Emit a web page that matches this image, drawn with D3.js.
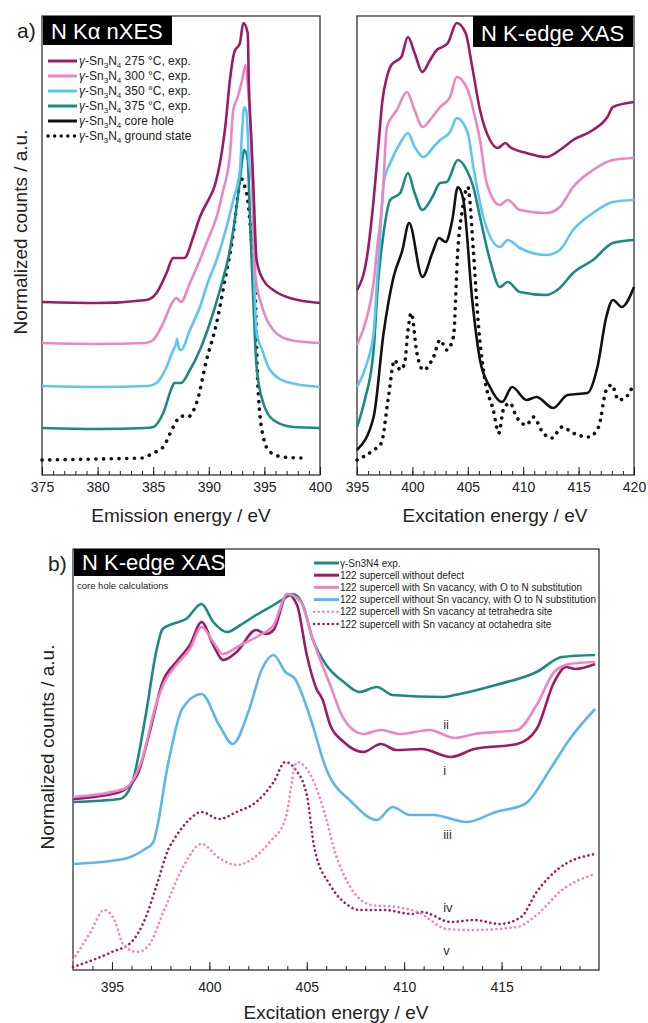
<!DOCTYPE html>
<html>
<head>
<meta charset="utf-8">
<script src="https://cdn.jsdelivr.net/npm/d3@7"></script>
<style>
  body { margin: 0; background: #fff; }
  svg { font-family: "Liberation Sans", Arial, sans-serif; }
</style>
</head>
<body>
<script>
// ---- data (energy in eV, counts in a.u.) ----
// a) N K-alpha nXES
const xes275 = [[375,173],[380,172],[384.4,175],[385.3,182],[386.2,202],[386.8,217],[387.8,217],[388.6,238],[389.2,258],[390.1,278],[390.4,285],[391.2,325],[391.5,350],[391.9,395],[392.3,423],[392.8,432],[393.1,452],[393.5,442],[393.6,392],[393.8,342],[394,292],[394.3,215],[394.9,195],[395.8,185],[397.3,177],[400,172]];
const xes300 = [[375,132],[380,131],[384.3,132],[385,135],[385.9,152],[386.7,172],[387.1,177],[387.5,173],[388.3,192],[389.2,215],[389.9,235],[390.7,258],[391.3,285],[391.9,320],[392.2,365],[392.6,378],[393,395],[393.3,410],[393.6,375],[393.8,335],[394,260],[394.2,198],[394.8,168],[395.8,145],[397.3,135],[400,132]];
const xes350 = [[375,89],[380,88],[384.5,89],[385.3,92],[386.2,108],[386.8,125],[387.05,131],[387.15,136],[387.3,127],[387.5,125],[388.3,145],[389.2,168],[389.9,192],[390.7,215],[391.6,248],[392.2,275],[392.8,305],[393,345],[393.2,368],[393.4,362],[393.6,315],[393.9,292],[394.1,192],[394.3,142],[394.8,125],[395.5,105],[397,93],[400,88]];
const xes375 = [[375,47],[380,46],[384.3,47],[385,48],[385.9,62],[386.7,88],[386.9,92],[387.5,92],[388.3,105],[389.2,125],[390.1,152],[391,185],[391.9,225],[392.5,268],[392.9,305],[393.1,322],[393.2,325],[393.5,315],[393.7,258],[394,175],[394.3,108],[394.9,72],[395.8,55],[397.6,48],[400,47]];
const xesGround = [[375,15],[380,16],[384,17],[385,22],[385.9,28],[386.8,48],[387.5,59],[388.1,58],[388.9,72],[389.8,115],[390.7,152],[391.4,192],[392.2,242],[392.6,278],[392.85,297],[393.2,290],[393.5,275],[393.9,225],[394.2,175],[394.4,92],[394.9,38],[395.5,23],[396.7,18],[398.4,17]];

// a) N K-edge XAS
const xas275 = [[395,185],[395.9,218],[396.5,275],[396.9,325],[397.3,375],[397.7,398],[398.1,410],[399,418],[399.6,438],[400.2,422],[400.9,403],[401.6,415],[402.2,425],[402.7,428],[403.2,432],[404,452],[404.8,442],[405.4,408],[406.1,365],[407,335],[407.7,327],[408.4,332],[408.8,328],[410.3,322],[412.1,318],[413.3,325],[414.5,335],[416.3,345],[417.6,358],[418.1,368],[420,373]];
const xas300 = [[395,130],[395.9,158],[396.5,192],[396.8,225],[397.3,275],[397.7,348],[398.6,365],[399.5,383],[400.2,365],[400.9,348],[401.8,358],[402.5,368],[403.4,378],[404,398],[405,385],[405.5,365],[406.1,335],[406.7,292],[407.9,270],[408.6,275],[409.7,265],[412.1,262],[413.3,268],[414.5,288],[416.3,305],[418.1,315],[420,317]];
const xas350 = [[395,88],[395.9,112],[396.5,142],[396.8,192],[397.1,242],[397.4,292],[398,312],[398.9,332],[399.6,342],[400.2,328],[401,318],[401.9,328],[402.5,335],[403.4,343],[404,357],[405,342],[405.5,308],[406.4,258],[407.9,228],[408.6,235],[409.7,227],[412.1,220],[413.3,225],[414.5,245],[416.3,262],[418.1,273],[420,275]];
const xas375 = [[395,48],[395.7,75],[396.5,125],[396.9,192],[397.4,242],[398,275],[398.9,282],[399.6,302],[400.2,282],[400.9,265],[401.8,278],[402.5,292],[403.1,293],[404.1,315],[404.9,305],[405.5,288],[406.1,258],[407,215],[407.9,188],[408.6,193],[409.7,183],[412.1,180],[413.3,187],[414.5,202],[416.3,215],[418.1,232],[420,235]];
const xasCoreHole = [[395,25],[396.5,58],[397.4,142],[398.3,198],[399.1,225],[399.7,252],[400.9,198],[401.8,222],[402.4,237],[403,233],[403.6,255],[404.1,288],[404.6,275],[405.4,175],[406.1,115],[407,88],[408.1,73],[409,88],[410.3,75],[411.2,78],[412.7,67],[414,80],[415.8,82],[416.7,108],[417.5,158],[418.1,175],[418.9,168],[420,188]];
const xasGround = [[395,15],[396.5,25],[397.2,32],[397.8,75],[398.4,115],[398.9,105],[399.3,112],[399.6,145],[399.9,162],[400.4,122],[401,105],[401.9,118],[402.5,135],[403.1,125],[403.7,138],[404.1,225],[404.5,265],[405,288],[405.5,225],[405.9,158],[406.5,98],[407.3,65],[407.8,42],[408.2,65],[408.8,72],[409.4,58],[410.3,50],[410.9,58],[411.8,42],[412.6,37],[413.5,48],[414.5,42],[415.9,38],[416.8,48],[417.5,85],[418,90],[418.6,75],[419.3,78],[420,92]];

// b) N K-edge XAS, core hole calculations
const calcExp = [[393,168],[395.4,171],[396,185],[396.7,251],[397.3,321],[397.6,341],[398.1,346],[398.8,351],[399.6,366],[400.2,348],[400.9,338],[401.6,345],[402.4,355],[403.3,365],[403.8,371],[404.3,376],[404.8,365],[405.3,331],[406,305],[406.9,288],[407.7,278],[408.6,283],[409.4,275],[412,273],[412.6,275],[414.7,285],[416.8,298],[418.1,313],[419.8,315]];
const calcNoDefect = [[393,171],[395.4,178],[396.3,195],[396.9,235],[397.6,288],[398.3,308],[399,325],[399.6,348],[400.2,325],[400.7,310],[401.4,318],[402.4,340],[402.9,336],[403.3,340],[404,376],[404.5,365],[405,315],[405.5,281],[405.8,271],[406.2,245],[406.9,228],[407.9,218],[408.8,226],[409.6,220],[410.9,221],[412.4,213],[413.6,221],[415.8,226],[416.8,241],[417.7,288],[418.3,303],[418.8,301],[419.8,306]];
const calcSnVacO = [[393,173],[395.6,181],[396.5,208],[397.3,268],[397.7,288],[398.3,305],[399,321],[399.6,343],[400.2,328],[400.7,316],[401.6,325],[402.6,335],[403.3,345],[404,376],[404.7,368],[405.3,331],[406.2,285],[406.9,251],[407.9,236],[408.8,240],[409.8,236],[411.3,240],[412.6,232],[413.6,236],[415.8,240],[416.8,265],[417.7,298],[418.5,306],[419.8,308]];
const calcNoSnVacO = [[393,106],[395.6,111],[396.7,121],[397.1,127],[397.9,208],[398.6,261],[399.6,276],[400.5,245],[401.2,226],[402,258],[402.7,301],[403.3,315],[403.9,298],[404.4,291],[405.2,251],[406,201],[407.3,168],[408.6,150],[409.4,163],[410.3,155],[411.5,155],[413.2,148],[414.7,158],[416.2,166],[417.5,201],[418.5,231],[419.8,261]];
const calcTetra = [[393,10],[393.9,38],[394.6,60],[395.1,51],[395.6,25],[396.3,18],[396.9,25],[397.7,61],[398.6,101],[399.6,126],[400.5,112],[401.4,105],[402.2,111],[403.1,128],[403.9,151],[404.5,208],[405.2,195],[406,151],[406.4,121],[407.3,81],[408.3,65],[409.6,63],[410.7,58],[412.2,41],[413.6,40],[415.8,43],[416.8,55],[418.1,80],[419.8,96]];
const calcOcta = [[393,3],[395,18],[396,28],[396.7,51],[397.3,85],[397.9,121],[398.2,131],[399,151],[399.6,158],[400.5,151],[401.4,158],[402.4,168],[403.3,188],[403.9,208],[404.4,201],[405,175],[405.4,121],[406.2,85],[407.1,65],[407.7,60],[409,60],[410.4,56],[410.9,58],[412.4,48],[413.6,50],[414.9,46],[416,53],[416.8,78],[417.9,101],[419.8,116]];

// legend texts and tick labels
const legendA = ['275 °C, exp.', '300 °C, exp.', '350 °C, exp.', '375 °C, exp.', 'core hole', 'ground state'];
const legendB = ['γ-Sn3N4 exp.', '122 supercell without defect', '122 supercell with Sn vacancy, with O to N substitution',
  '122 supercell without Sn vacancy, with O to N substitution', '122 supercell with Sn vacancy at tetrahedra site',
  '122 supercell with Sn vacancy at octahedra site'];
const romanLabels = [['ii', 412, 241], ['i', 412, 195], ['iii', 412, 131], ['iv', 412, 58], ['v', 412, 15]];
const ticksXES = [375, 380, 385, 390, 395, 400];
const ticksXASa = [395, 400, 405, 410, 415, 420];
const ticksXASb = [395, 400, 405, 410, 415];

const C = { purple: '#9a1c64', pink: '#ec86c2', blue: '#5cc6f0', teal: '#1b8a82', black: '#111',
            bBlue: '#5db7e6' };

const svg = d3.select('body').append('svg').attr('width', 648).attr('height', 1023);
svg.append('rect').attr('width', 648).attr('height', 1023).attr('fill', '#fff');

function makePanel(p) {
  const x = d3.scaleLinear().domain(p.dom).range([p.x0, p.x1]);
  const y = d3.scaleLinear().domain(p.ydom).range([p.y1, p.y0]);
  const g = svg.append('g');
  // minor ticks
  g.append('g').attr('transform', `translate(0,${p.y1})`)
    .call(d3.axisBottom(x).tickValues(p.minor).tickSize(-4).tickFormat(''))
    .call(a => a.select('.domain').remove())
    .selectAll('line').attr('stroke', '#222');
  const ax = g.append('g').attr('transform', `translate(0,${p.y1})`)
    .call(d3.axisBottom(x).tickValues(p.major).tickSize(-8).tickPadding(p.pad).tickFormat(d3.format('d')));
  ax.select('.domain').remove();
  ax.selectAll('line').attr('stroke', '#222');
  ax.selectAll('text').attr('font-size', 14).attr('fill', '#222')
    .attr('font-family', '"Liberation Sans", Arial, sans-serif');
  g.append('rect').attr('x', p.x0).attr('y', p.y0).attr('width', p.x1 - p.x0).attr('height', p.y1 - p.y0)
    .attr('fill', 'none').attr('stroke', '#222').attr('stroke-width', 1.2);
  return { x, y, g };
}

function drawLine(P, data, color, width, dash) {
  const line = d3.line().x(d => P.x(d[0])).y(d => P.y(d[1])).curve(d3.curveMonotoneX);
  const path = svg.append('path').datum(data).attr('d', line)
    .attr('fill', 'none').attr('stroke', color).attr('stroke-width', width)
    .attr('stroke-linejoin', 'round');
  if (dash) path.attr('stroke-dasharray', dash).attr('stroke-linecap', 'round');
  return path;
}

function blackBox(x, y, w, h, label) {
  svg.append('rect').attr('x', x).attr('y', y).attr('width', w).attr('height', h).attr('fill', '#000');
  svg.append('text').attr('x', x + 8).attr('y', y + h - 6).attr('fill', '#fff')
    .attr('font-size', 22).text(label);
}

// ---- panel a) left: XES ----
const PA = makePanel({ x0: 42, x1: 320, y0: 16, y1: 475, dom: [375, 400], ydom: [0, 459], pad: 7,
  major: ticksXES, minor: d3.range(376, 400, 1) });
drawLine(PA, xesGround, C.black, 3.6, '0.1 7.6');
drawLine(PA, xes375, C.teal, 2.6);
drawLine(PA, xes350, C.blue, 2.6);
drawLine(PA, xes300, C.pink, 2.6);
drawLine(PA, xes275, C.purple, 2.6);
blackBox(43, 16, 129, 29, 'N Kα nXES');

const legColors = [C.purple, C.pink, C.blue, C.teal, C.black, C.black];
legendA.forEach((t, i) => {
  const yy = 61 + i * 15;
  const l = svg.append('line').attr('x1', 48).attr('x2', 77).attr('y1', yy).attr('y2', yy)
    .attr('stroke', legColors[i]).attr('stroke-width', i === 5 ? 3.4 : 3);
  if (i === 5) l.attr('stroke-dasharray', '0.1 6.5').attr('stroke-linecap', 'round');
  const tx = svg.append('text').attr('x', 79).attr('y', yy + 4).attr('font-size', 12).attr('fill', '#222');
  tx.append('tspan').attr('font-style', 'italic').text('γ');
  tx.append('tspan').text('-Sn');
  tx.append('tspan').attr('font-size', 8).attr('dy', 3).text('3');
  tx.append('tspan').attr('dy', -3).text('N');
  tx.append('tspan').attr('font-size', 8).attr('dy', 3).text('4');
  tx.append('tspan').attr('dy', -3).text(' ' + t);
});

// ---- panel a) right: XAS ----
const PX = makePanel({ x0: 357, x1: 634, y0: 16, y1: 475, dom: [395, 420], ydom: [0, 459], pad: 7,
  major: ticksXASa, minor: d3.range(396, 420, 1) });
drawLine(PX, xasGround, C.black, 3.6, '0.1 7.2');
drawLine(PX, xasCoreHole, C.black, 2.6);
drawLine(PX, xas375, C.teal, 2.6);
drawLine(PX, xas350, C.blue, 2.6);
drawLine(PX, xas300, C.pink, 2.6);
drawLine(PX, xas275, C.purple, 2.6);
blackBox(473, 16, 160, 31, 'N K-edge XAS');

svg.append('text').attr('x', 17).attr('y', 38).attr('font-size', 21).attr('fill', '#222').text('a)');
svg.append('text').attr('x', 181).attr('y', 522).attr('text-anchor', 'middle').attr('font-size', 19)
  .attr('fill', '#222').text('Emission energy / eV');
svg.append('text').attr('x', 495).attr('y', 522).attr('text-anchor', 'middle').attr('font-size', 19)
  .attr('fill', '#222').text('Excitation energy / eV');
svg.append('text').attr('transform', 'translate(27,232) rotate(-90)').attr('text-anchor', 'middle')
  .attr('font-size', 19).attr('fill', '#222').text('Normalized counts / a.u.');

// ---- panel b) ----
const PB = makePanel({ x0: 73, x1: 599, y0: 549, y1: 970, dom: [393, 420], ydom: [0, 421], pad: 12,
  major: ticksXASb, minor: d3.range(394, 420, 1) });
drawLine(PB, calcOcta, C.purple, 2.6, '0.1 4.6');
drawLine(PB, calcTetra, C.pink, 2.6, '0.1 4.6');
drawLine(PB, calcNoSnVacO, C.bBlue, 2.6);
drawLine(PB, calcExp, C.teal, 2.6);
drawLine(PB, calcNoDefect, C.purple, 2.6);
drawLine(PB, calcSnVacO, C.pink, 2.6);
blackBox(74, 549, 151, 27, 'N K-edge XAS');
svg.append('text').attr('x', 48).attr('y', 571).attr('font-size', 21).attr('fill', '#222').text('b)');
svg.append('text').attr('x', 77).attr('y', 589).attr('font-size', 9.5).attr('fill', '#222')
  .text('core hole calculations');
svg.append('text').attr('x', 336).attr('y', 1019).attr('text-anchor', 'middle').attr('font-size', 19)
  .attr('fill', '#222').text('Excitation energy / eV');
svg.append('text').attr('transform', 'translate(54,747) rotate(-90)').attr('text-anchor', 'middle')
  .attr('font-size', 19).attr('fill', '#222').text('Normalized counts / a.u.');

const legBColors = [C.teal, C.purple, C.pink, C.bBlue, C.pink, C.purple];
legendB.forEach((t, i) => {
  const yy = 563 + i * 12.2;
  const l = svg.append('line').attr('x1', 314).attr('x2', 339).attr('y1', yy).attr('y2', yy)
    .attr('stroke', legBColors[i]).attr('stroke-width', 3);
  if (i >= 4) l.attr('stroke-dasharray', '0.1 4.6').attr('stroke-linecap', 'round').attr('stroke-width', 2.6);
  svg.append('text').attr('x', 340).attr('y', yy + 3.5).attr('font-size', 10).attr('fill', '#222')
    .attr('font-family', '"Liberation Sans Narrow", "Liberation Sans", Arial, sans-serif').text(t);
});

romanLabels.forEach(r => {
  svg.append('text').attr('x', PB.x(r[1])).attr('y', PB.y(r[2])).attr('font-size', 13)
    .attr('fill', '#333').text(r[0]);
});
</script>
</body>
</html>
